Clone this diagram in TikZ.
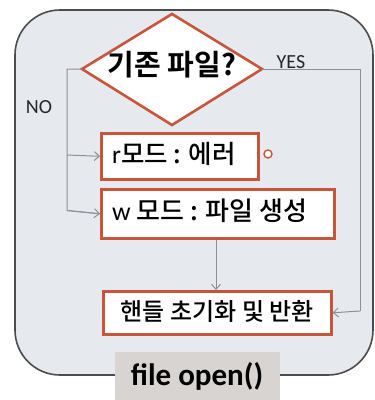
\documentclass[tikz,border=0pt]{standalone}
\usepackage{fontspec}
\setmainfont{Noto Sans CJK KR}[BoldFont={* Bold}]
\newfontfamily\krm{Noto Sans CJK KR Medium}
\newfontfamily\lat{Carlito}
\usetikzlibrary{shapes.geometric,arrows.meta}
\definecolor{boxred}{HTML}{C8553A}
\definecolor{panel}{HTML}{E6E9EE}
\definecolor{linegray}{HTML}{8C9099}
\definecolor{labgray}{HTML}{D8D4D2}
\tikzset{
  procbox/.style={draw=boxred,line width=2.6pt,fill=white,inner sep=0pt,anchor=north west},
  conn/.style={draw=linegray,line width=1pt},
  arr/.style={conn,-{Straight Barb[length=5pt,width=9pt]}},
  lbl/.style={font=\lat\fontsize{20}{20}\selectfont,text=black!85},
  boxtxt/.style={inner sep=0pt}
}
\begin{document}
\begin{tikzpicture}[x=1pt,y=-1pt]
\useasboundingbox (0,0) rectangle (375,400);
\fill[white] (0,0) rectangle (375,400);
\draw[draw=black!70,fill=panel,line width=1.6pt,rounded corners=45pt] (15,10) rectangle (373,375);
% diamond
\draw[draw=boxred,fill=white,line width=2.6pt] (172,14) -- (262,69) -- (172,125) -- (82,69) -- cycle;
\node (dia) at (172,65) {\fontsize{29}{29}\selectfont\bfseries 기존 파일?};
\coordinate (dl) at (82,69);
\coordinate (dr) at (262,69);
% boxes
\node[procbox,minimum width=157pt,minimum height=46pt] (r) at (100,132) {};
\node[boxtxt,anchor=west] (rt) at (112,154) {\fontsize{25.5}{25.5}\selectfont\lat r\krm 모드 : 에러};
\node[procbox,minimum width=233pt,minimum height=49pt] (w) at (100,188) {};
\node[boxtxt,anchor=west] (wt) at (112,211) {\fontsize{26}{26}\selectfont\lat w \krm 모드 : 파일 생성};
\node[procbox,minimum width=228pt,minimum height=43pt] (h) at (102,290) {};
\node[boxtxt] (ht) at ([yshift=1pt]h.center) {\fontsize{24}{24}\selectfont\krm 핸들 초기화 및 반환};
\node[draw=boxred,line width=1.4pt,circle,fill=white,minimum size=8pt,inner sep=0pt] (c) at (268,154) {};
% connectors
\coordinate (nl) at (67,69);
\path[conn] (dl) -- (nl) -- (67,210.5) -- (w.west);
\path[arr] (67,210.5) -- (w.west);
\path[arr] (67,155) -- (r.west);
\path[conn] (dr) -- (360,69) -- (360,311);
\path[arr] (360,311) -- (h.east);
\path[arr] (w.south -| 216,0) -- (h.north -| 216,0);
\node[lbl] (yes) at (291,62) {YES};
\node[lbl] (no) at (39,107) {NO};
% label
\node[fill=labgray,minimum width=165pt,minimum height=48pt,inner sep=0pt] (fo) at (197,376) {\fontsize{31}{31}\selectfont\lat\bfseries file open()};
\end{tikzpicture}
\end{document}
